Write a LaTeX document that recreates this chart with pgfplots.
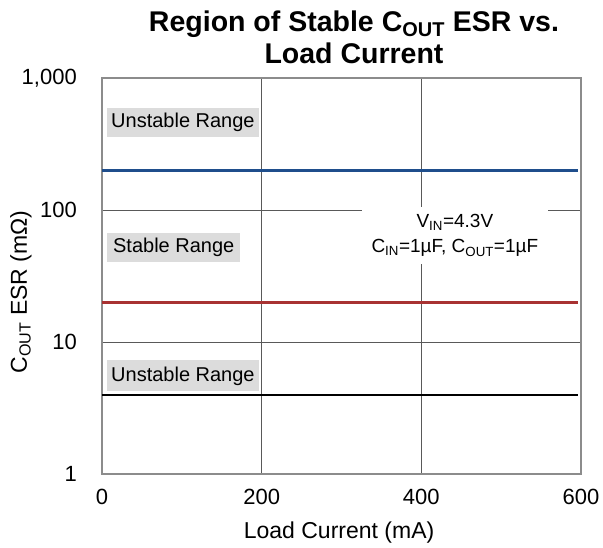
\documentclass[border=0pt]{standalone}
\usepackage{pgfplots}
\pgfplotsset{compat=1.18}
\usepackage{fontspec}
\setmainfont{Liberation Sans}
\definecolor{cblue}{HTML}{1F4E8C}
\definecolor{cred}{HTML}{A83232}
\definecolor{boxgray}{HTML}{D6D6D6}
\begin{document}
\begin{tikzpicture}
\begin{axis}[
  at={(0pt,0pt)}, anchor=origin,
  scale only axis,
  width=479pt, height=396pt,
  xmin=0, xmax=600, ymin=1, ymax=1000,
  ymode=log,
  xtick={0,200,400,600},
  ytick={1,10,100,1000},
  yticklabels={1,10,100,{1,000}},
  log basis y=10,
  xmajorgrids, ymajorgrids, yminorgrids,
  major grid style={draw=black!65, line width=0.8pt},
  minor grid style={draw=black!18, line width=1pt},
  axis line style={draw=black!45, line width=1.2pt},
  tick style={draw=none},
  tick label style={font=\fontsize{22}{24}\selectfont, inner sep=0pt},
  /pgf/number format/assume math mode=true,
  xticklabel style={anchor=center, yshift=-23pt},
  yticklabel style={anchor=east, xshift=-25pt},
  xlabel={Load Current (mA)},
  ylabel={C\textsubscript{OUT} ESR (mΩ)},
  label style={font=\fontsize{23}{25}\selectfont},
  xlabel style={at={(axis description cs:0.495,-0.148)}, anchor=center},
  ylabel style={at={(axis description cs:-0.169,0.46)}, anchor=center},
  clip=false,
]
\addplot[cblue, line width=3pt] coordinates {(0,200) (596,200)};
\addplot[cred, line width=3pt] coordinates {(0,20) (596,20)};
\addplot[black, line width=2pt] coordinates {(0,4) (596,4)};
\node[fill=boxgray, fill opacity=0.85, text opacity=1, anchor=west, inner xsep=4pt, minimum height=29pt, font=\fontsize{20}{22}\selectfont] at (axis cs:6.3,460) {Unstable Range};
\node[fill=boxgray, fill opacity=0.85, text opacity=1, anchor=west, inner xsep=4pt, minimum width=133pt, minimum height=29pt, font=\fontsize{20}{22}\selectfont] at (axis cs:6.3,52) {Stable Range};
\node[fill=boxgray, fill opacity=0.85, text opacity=1, anchor=west, inner xsep=4pt, minimum height=31pt, font=\fontsize{20}{22}\selectfont] at (axis cs:6.3,5.53) {Unstable Range};
\node[fill=white, align=center, minimum width=186pt, minimum height=57pt, inner sep=0pt, font=\fontsize{19}{25}\selectfont] at (axis cs:442,64) {V\textsubscript{IN}=4.3V\\C\textsubscript{IN}=1µF, C\textsubscript{OUT}=1µF};
\end{axis}
\node[align=center, font=\bfseries\fontsize{28.5}{32}\selectfont] at (252pt,437pt) {Region of Stable C\textsubscript{OUT} ESR vs.\\Load Current};
\pgfresetboundingbox
\path (-102pt,-74pt) rectangle (501pt,474pt);
\end{tikzpicture}
\end{document}
